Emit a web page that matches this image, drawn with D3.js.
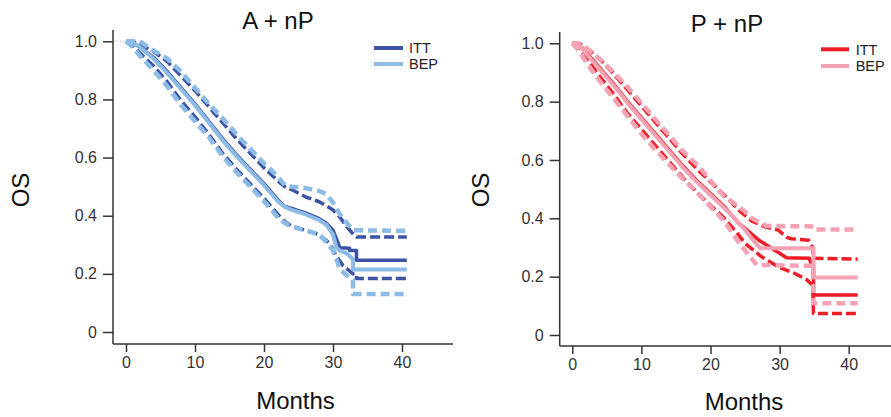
<!DOCTYPE html>
<html><head><meta charset="utf-8">
<script src="https://cdn.jsdelivr.net/npm/d3@7"></script>
<style>
body{margin:0;background:#fff}
svg{display:block}
text{font-family:Arial,"Liberation Sans",sans-serif}
</style>
</head><body>
<svg id="c" width="891" height="417"></svg>
<script>
// ---- data: [month, survival] pairs ----
const xTicks = [0, 10, 20, 30, 40];
const yTicks = [0, 0.2, 0.4, 0.6, 0.8, 1.0];
const seriesNames = ["ITT", "BEP"];

// A + nP
const aIttEst = [[0,1],[1,0.995],[2,0.98],[4,0.945],[6,0.895],[8,0.84],[10,0.785],[12,0.725],[14,0.665],[16,0.61],[18,0.56],[20,0.51],[22,0.455],[23,0.432],[24,0.425],[26,0.41],[28,0.39],[29,0.375],[30,0.35],[30.5,0.32],[31,0.29],[32.4,0.288],[32.4,0.28],[33.4,0.28],[33.4,0.247],[40.7,0.247]];
const aIttHi  = [[0,1],[1,1],[2,0.99],[4,0.965],[6,0.93],[8,0.88],[10,0.83],[12,0.775],[14,0.72],[16,0.665],[18,0.615],[20,0.565],[22,0.52],[23,0.5],[24,0.49],[26,0.465],[28,0.448],[29,0.435],[30,0.42],[31,0.395],[32,0.362],[33,0.335],[33.4,0.327],[40.7,0.327]];
const aIttLo  = [[0,1],[1,0.985],[2,0.96],[4,0.915],[6,0.86],[8,0.795],[10,0.74],[12,0.68],[14,0.615],[16,0.56],[18,0.51],[20,0.46],[22,0.405],[23,0.38],[24,0.365],[26,0.35],[28,0.335],[29.5,0.305],[30.5,0.26],[31.4,0.23],[32.9,0.2],[33.4,0.2],[33.4,0.184],[40.7,0.184]];
const aBepEst = [[0,1],[1,0.995],[2,0.98],[4,0.94],[6,0.89],[8,0.835],[10,0.78],[12,0.72],[14,0.66],[16,0.605],[18,0.555],[20,0.505],[22,0.45],[23,0.43],[24,0.42],[26,0.405],[28,0.385],[29,0.37],[30,0.335],[30.5,0.29],[31,0.28],[32,0.27],[32.9,0.25],[32.9,0.215],[40.7,0.215]];
const aBepHi  = [[0,1],[1,1],[2,1],[3.5,0.975],[6,0.94],[8,0.895],[10,0.84],[12,0.785],[14,0.735],[16,0.68],[18,0.63],[20,0.58],[22,0.535],[23,0.505],[24,0.5],[26,0.495],[28,0.485],[29,0.475],[30,0.445],[31,0.405],[32,0.375],[32.9,0.35],[40.7,0.348]];
const aBepLo  = [[0,1],[1,0.98],[2,0.95],[4,0.9],[6,0.845],[8,0.78],[10,0.725],[12,0.67],[14,0.605],[16,0.55],[18,0.5],[20,0.45],[22,0.395],[23,0.375],[24,0.362],[26,0.35],[28,0.335],[29,0.31],[30,0.28],[30.5,0.25],[31,0.215],[32,0.195],[32.9,0.18],[32.9,0.131],[40.7,0.131]];

// P + nP
const pIttEst = [[0,1],[1,0.995],[2,0.97],[4,0.915],[6,0.86],[8,0.8],[10,0.745],[12,0.69],[14,0.635],[16,0.58],[18,0.53],[20,0.485],[22,0.44],[24,0.385],[26,0.345],[27,0.325],[28,0.31],[29,0.295],[30,0.28],[31,0.265],[34.3,0.263],[34.6,0.24],[34.9,0.24],[34.9,0.137],[41.3,0.137]];
const pIttHi  = [[0,1],[1,1],[2,0.985],[4,0.945],[6,0.895],[8,0.84],[10,0.785],[12,0.73],[14,0.675],[16,0.62],[18,0.57],[20,0.525],[22,0.48],[24,0.43],[26,0.39],[28,0.37],[29.8,0.36],[31,0.335],[31.7,0.33],[34.2,0.325],[34.8,0.3],[34.9,0.263],[41.3,0.26]];
const pIttLo  = [[0,1],[1,0.985],[2,0.95],[4,0.885],[6,0.825],[8,0.76],[10,0.705],[12,0.65],[14,0.595],[16,0.54],[18,0.49],[20,0.445],[22,0.4],[24,0.345],[25,0.314],[27.4,0.268],[29.8,0.234],[32.2,0.211],[33.9,0.19],[34.8,0.17],[34.9,0.074],[41.3,0.074]];
const pBepEst = [[0,1],[1,0.995],[2,0.965],[4,0.91],[6,0.855],[8,0.795],[10,0.74],[12,0.685],[14,0.63],[16,0.575],[18,0.525],[20,0.48],[22,0.435],[23.3,0.406],[25,0.36],[26,0.33],[27.2,0.297],[34.9,0.297],[34.9,0.197],[41.3,0.197]];
const pBepHi  = [[0,1],[1,1],[2,0.985],[4,0.945],[6,0.9],[8,0.85],[10,0.795],[12,0.74],[14,0.685],[16,0.63],[18,0.585],[20,0.53],[21.4,0.49],[22,0.475],[24.7,0.429],[26,0.4],[28.1,0.374],[34.9,0.372],[35.1,0.362],[41.3,0.362]];
const pBepLo  = [[0,1],[1,0.975],[2,0.935],[4,0.87],[6,0.81],[8,0.75],[10,0.69],[12,0.635],[14,0.585],[16,0.535],[18,0.49],[20,0.44],[22,0.39],[24,0.32],[25,0.29],[26,0.26],[26.7,0.24],[34.9,0.237],[34.9,0.109],[41.3,0.109]];

// ---- layout ----
const panels = [
  {title:"A + nP", colors:["#3c53a4","#8cbbe6"],
   itt:[aIttHi,aIttLo,aIttEst], bep:[aBepHi,aBepLo,aBepEst],
   axisX:113, xr:[126,402], yr:[332,41.3], xAxisY:344, axisTop:30, axisRight:453,
   titleX:278, titleY:28.5, osX:29, osY:190, monX:295.5, monY:409,
   legX:[374,403], legY:[48,64], legTX:409, dotted:true},
  {title:"P + nP", colors:["#ee1d25","#f5a2b5"],
   itt:[pIttHi,pIttLo,pIttEst], bep:[pBepHi,pBepLo,pBepEst],
   axisX:559.7, xr:[572.3,848.7], yr:[335,43.3], xAxisY:346, axisTop:32, axisRight:891,
   titleX:727, titleY:31.5, osX:489, osY:190, monX:744, monY:410,
   legX:[821,849], legY:[49.3,66], legTX:855.7, dotted:false}
];

const svg = d3.select("#c");
const axisColor = "#333";

panels.forEach(p => {
  const g = svg.append("g");
  const x = d3.scaleLinear().domain([0,40]).range(p.xr);
  const y = d3.scaleLinear().domain([0,1]).range(p.yr);

  // axis lines
  g.append("line").attr("x1",p.axisX).attr("x2",p.axisX).attr("y1",p.axisTop).attr("y2",p.xAxisY)
    .attr("stroke",axisColor).attr("stroke-width",1.5);
  g.append("line").attr("x1",p.axisX).attr("x2",p.axisRight).attr("y1",p.xAxisY).attr("y2",p.xAxisY)
    .attr("stroke",axisColor).attr("stroke-width",1.5);

  const ya = g.append("g").attr("transform",`translate(${p.axisX},0)`)
    .call(d3.axisLeft(y).tickValues(yTicks).tickSize(10).tickPadding(6).tickSizeOuter(0)
      .tickFormat(d => d===0 ? "0" : d3.format(".1f")(d)));
  ya.select(".domain").remove();
  const xa = g.append("g").attr("transform",`translate(0,${p.xAxisY})`)
    .call(d3.axisBottom(x).tickValues(xTicks).tickSize(8).tickPadding(5).tickSizeOuter(0));
  xa.select(".domain").remove();
  [ya, xa].forEach(a => {
    a.selectAll(".tick line").attr("stroke",axisColor).attr("stroke-width",1.5);
    a.selectAll(".tick text").attr("fill","#333").style("font-size","16px")
      .style("font-family","Arial, 'Liberation Sans', sans-serif");
  });

  if (p.dotted) {
    g.append("line").attr("x1",p.axisX+1).attr("x2",x(0)).attr("y1",y(1)).attr("y2",y(1))
      .attr("stroke","#bbb").attr("stroke-width",1).attr("stroke-dasharray","1,2");
  }

  const line = d3.line().x(d => x(d[0])).y(d => y(d[1]));
  const draw = (data, color, dashed, w) => {
    g.append("path").attr("d", line(data)).attr("fill","none")
      .attr("stroke", color).attr("stroke-width", w)
      .attr("stroke-linejoin","round")
      .attr("stroke-dasharray", dashed ? dashed : null);
  };
  // ITT underneath, BEP on top
  draw(p.itt[0], p.colors[0], "10,4", 3.5);
  draw(p.itt[1], p.colors[0], "10,4", 3.5);
  draw(p.itt[2], p.colors[0], null, 3.5);
  draw(p.bep[0], p.colors[1], "9,5", 4.5);
  draw(p.bep[1], p.colors[1], "9,5", 4.5);
  draw(p.bep[2], p.colors[1], null, 4);

  // legend
  seriesNames.forEach((n,i) => {
    g.append("line").attr("x1",p.legX[0]).attr("x2",p.legX[1]).attr("y1",p.legY[i]).attr("y2",p.legY[i])
      .attr("stroke",p.colors[i]).attr("stroke-width",4);
    g.append("text").attr("x",p.legTX).attr("y",p.legY[i]).attr("dy","0.36em")
      .attr("fill","#222").style("font-size","14.5px").text(n);
  });

  // titles
  g.append("text").attr("x",p.titleX).attr("y",p.titleY).attr("text-anchor","middle")
    .attr("fill","#111").style("font-size","24px").text(p.title);
  g.append("text").attr("x",p.monX).attr("y",p.monY).attr("text-anchor","middle")
    .attr("fill","#111").style("font-size","24px").text("Months");
  g.append("text").attr("transform",`translate(${p.osX},${p.osY}) rotate(-90)`).attr("text-anchor","middle")
    .attr("fill","#111").style("font-size","24px").text("OS");
});
</script>
</body></html>
